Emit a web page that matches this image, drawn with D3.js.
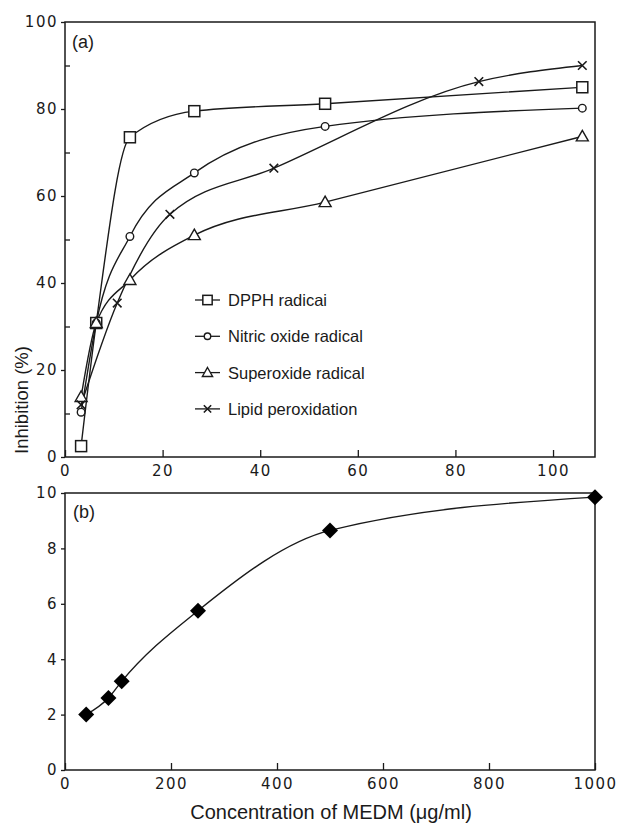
<!DOCTYPE html>
<html>
<head>
<meta charset="utf-8">
<script src="https://cdn.jsdelivr.net/npm/d3@7"></script>
<style>
  body { margin: 0; background: #fff; }
  .tick text { font-family: "DejaVu Sans", sans-serif; font-size: 15px; letter-spacing: 1.5px; fill: #1a1a1a; }
  .tick line { stroke: #1a1a1a; stroke-width: 1.3; }
  .domain { display: none; }
</style>
</head>
<body>
<div id="vis"></div>
<script>

// panel (a): inhibition (%) vs concentration
var dpphX = [3.3, 6.4, 13.3, 26.5, 53.3, 106];
var dpphY = [2.5, 30.8, 73.5, 79.5, 81.2, 85];
var nitricX = [3.3, 6.4, 13.3, 26.5, 53.3, 106];
var nitricY = [10.3, 30.8, 50.7, 65.3, 76, 80.2];
var superX = [3.3, 6.4, 13.3, 26.5, 53.3, 106];
var superY = [13.8, 30.8, 40.7, 51, 58.6, 73.7];
var lipidX = [3.3, 10.7, 21.5, 42.8, 84.8, 106];
var lipidY = [12, 35.4, 55.8, 66.4, 86.3, 90];

// panel (b)
var bX = [40, 82, 107, 251, 500, 1000];
var bY = [2.0, 2.6, 3.2, 5.75, 8.65, 9.85];

var aTicksX = [0, 20, 40, 60, 80, 100];
var aTicksY = [0, 20, 40, 60, 80, 100];
var aMinorY = [10, 30, 50, 70, 90];
var bTicksX = [0, 200, 400, 600, 800, 1000];
var bTicksY = [0, 2, 4, 6, 8, 10];

var legendNames = ['DPPH radicai', 'Nitric oxide radical', 'Superoxide radical', 'Lipid peroxidation'];

var width = 618, height = 829;
var ink = '#1a1a1a';
var sans = '"Liberation Sans", Arial, sans-serif';

var svg = d3.select('#vis').append('svg')
  .attr('width', width)
  .attr('height', height);

var xA = d3.scaleLinear().domain([0, 108.6]).range([65, 595]);
var yA = d3.scaleLinear().domain([0, 100]).range([457, 22]);
var xB = d3.scaleLinear().domain([0, 1000]).range([65, 595]);
var yB = d3.scaleLinear().domain([0, 10]).range([770, 493]);

var fmt = d3.format('d');

function frame(x, y) {
  svg.append('rect')
    .attr('x', x.range()[0]).attr('y', y.range()[1])
    .attr('width', x.range()[1] - x.range()[0])
    .attr('height', y.range()[0] - y.range()[1])
    .attr('fill', 'none').attr('stroke', ink).attr('stroke-width', 1.5);
}

// ---- panel a axes
svg.append('g')
  .attr('transform', 'translate(0,' + yA.range()[0] + ')')
  .call(d3.axisBottom(xA).tickValues(aTicksX).tickFormat(fmt).tickSize(-7).tickSizeOuter(0).tickPadding(8));
svg.append('g')
  .attr('transform', 'translate(' + xA.range()[0] + ',0)')
  .call(d3.axisLeft(yA).tickValues(aTicksY).tickFormat(fmt).tickSize(4).tickSizeOuter(0).tickPadding(3));
svg.append('g')
  .attr('transform', 'translate(' + xA.range()[0] + ',0)')
  .call(d3.axisLeft(yA).tickValues(aMinorY).tickSize(-5).tickSizeOuter(0).tickFormat(''));
frame(xA, yA);

// ---- panel b axes
svg.append('g')
  .attr('transform', 'translate(0,' + yB.range()[0] + ')')
  .call(d3.axisBottom(xB).tickValues(bTicksX).tickFormat(fmt).tickSize(-7).tickSizeOuter(0).tickPadding(8));
svg.append('g')
  .attr('transform', 'translate(' + xB.range()[0] + ',0)')
  .call(d3.axisLeft(yB).tickValues(bTicksY).tickFormat(fmt).tickSize(4).tickSizeOuter(0).tickPadding(3));
frame(xB, yB);

// ---- series
var series = [
  { name: legendNames[0], xs: dpphX, ys: dpphY, mark: 'square' },
  { name: legendNames[1], xs: nitricX, ys: nitricY, mark: 'circle' },
  { name: legendNames[2], xs: superX, ys: superY, mark: 'triangle' },
  { name: legendNames[3], xs: lipidX, ys: lipidY, mark: 'cross' }
];

function drawMark(g, type, cx, cy, s) {
  s = s || 1;
  if (type === 'square') {
    g.append('rect').attr('x', cx - 5.5 * s).attr('y', cy - 5.5 * s)
      .attr('width', 11 * s).attr('height', 11 * s)
      .attr('fill', '#fff').attr('stroke', ink).attr('stroke-width', 1.5);
  } else if (type === 'circle') {
    g.append('circle').attr('cx', cx).attr('cy', cy).attr('r', 3.8 * s)
      .attr('fill', '#fff').attr('stroke', ink).attr('stroke-width', 1.4);
  } else if (type === 'triangle') {
    var h = 6 * s;
    g.append('path')
      .attr('d', 'M' + cx + ',' + (cy - h) + 'L' + (cx + h) + ',' + (cy + h * 0.75) + 'L' + (cx - h) + ',' + (cy + h * 0.75) + 'Z')
      .attr('fill', '#fff').attr('stroke', ink).attr('stroke-width', 1.4);
  } else if (type === 'cross') {
    var c = 4.3 * s;
    g.append('path')
      .attr('d', 'M' + (cx - c) + ',' + (cy - c) + 'L' + (cx + c) + ',' + (cy + c) + 'M' + (cx + c) + ',' + (cy - c) + 'L' + (cx - c) + ',' + (cy + c))
      .attr('fill', 'none').attr('stroke', ink).attr('stroke-width', 1.6);
  } else if (type === 'diamond') {
    var d = 8;
    g.append('path')
      .attr('d', 'M' + cx + ',' + (cy - d) + 'L' + (cx + d) + ',' + cy + 'L' + cx + ',' + (cy + d) + 'L' + (cx - d) + ',' + cy + 'Z')
      .attr('fill', '#000');
  }
}

var lineA = d3.line().curve(d3.curveMonotoneX)
  .x(function(d) { return xA(d[0]); })
  .y(function(d) { return yA(d[1]); });

var lines = svg.append('g');
var marks = svg.append('g');

series.forEach(function(s) {
  var pts = s.xs.map(function(x, i) { return [x, s.ys[i]]; });
  lines.append('path')
    .attr('d', lineA(pts))
    .attr('fill', 'none').attr('stroke', ink).attr('stroke-width', 1.4);
  pts.forEach(function(p) {
    drawMark(marks, s.mark, xA(p[0]), yA(p[1]));
  });
});

// panel b curve
var lineB = d3.line().curve(d3.curveMonotoneX)
  .x(function(d) { return xB(d[0]); })
  .y(function(d) { return yB(d[1]); });
var bPts = bX.map(function(x, i) { return [x, bY[i]]; });
svg.append('path')
  .attr('d', lineB(bPts))
  .attr('fill', 'none').attr('stroke', ink).attr('stroke-width', 1.4);
bPts.forEach(function(p) {
  drawMark(svg, 'diamond', xB(p[0]), yB(p[1]));
});

// ---- legend
var legend = svg.append('g');
series.forEach(function(s, i) {
  var ly = 300 + i * 36.3;
  legend.append('line')
    .attr('x1', 195).attr('x2', 220).attr('y1', ly).attr('y2', ly)
    .attr('stroke', ink).attr('stroke-width', 1.3);
  drawMark(legend, s.mark, 207.5, ly, 0.85);
  legend.append('text')
    .attr('x', 228).attr('y', ly + 6)
    .attr('font-family', sans)
    .attr('font-size', 16.5).attr('fill', ink)
    .text(s.name);
});

// ---- panel labels and titles
svg.append('text').attr('x', 72).attr('y', 48)
  .attr('font-family', sans).attr('font-size', 18).attr('fill', ink)
  .text('(a)');
svg.append('text').attr('x', 73).attr('y', 518)
  .attr('font-family', sans).attr('font-size', 18).attr('fill', ink)
  .text('(b)');

svg.append('text')
  .attr('transform', 'translate(28,400) rotate(-90)')
  .attr('text-anchor', 'middle')
  .attr('font-family', sans).attr('font-size', 18.5).attr('fill', ink)
  .text('Inhibition (%)');

svg.append('text')
  .attr('x', 331).attr('y', 819)
  .attr('text-anchor', 'middle')
  .attr('font-family', sans).attr('font-size', 20).attr('fill', ink)
  .text('Concentration of MEDM (\u03bcg/ml)');

</script>
</body>
</html>
